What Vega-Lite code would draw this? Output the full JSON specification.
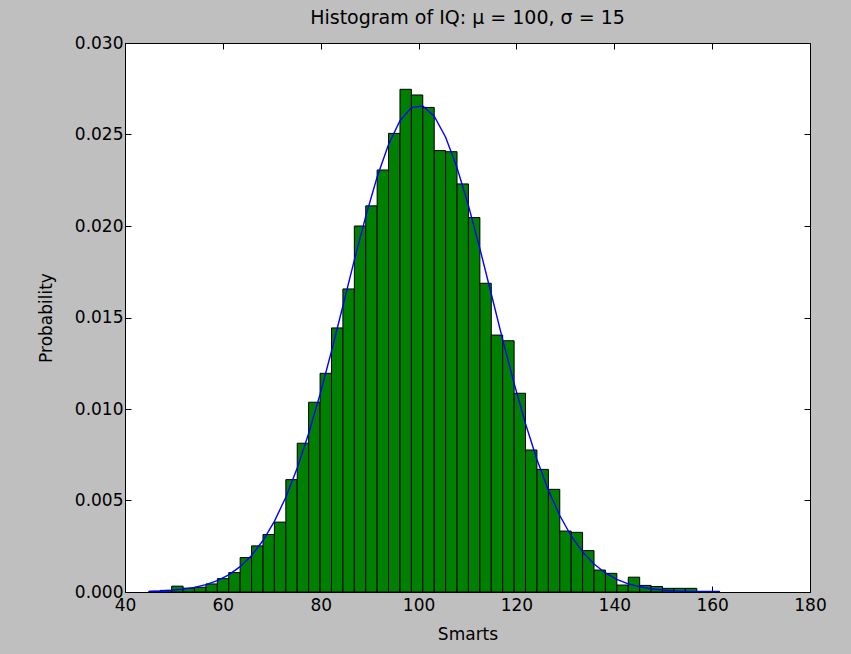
{
  "$schema": "https://vega.github.io/schema/vega-lite/v6.json",
  "width": 685,
  "height": 549,
  "autosize": {"type": "none"},
  "padding": {"left": 125, "top": 43, "right": 41, "bottom": 62},
  "background": "#bfbfbf",
  "title": {
    "text": "Histogram of IQ: μ = 100, σ = 15",
    "font": "DejaVu Sans",
    "fontSize": 19,
    "fontWeight": "normal",
    "color": "black",
    "offset": 6
  },
  "config": {
    "view": {"stroke": "black", "strokeWidth": 1, "fill": "white"},
    "axis": {
      "labelFont": "DejaVu Sans",
      "labelFontSize": 17,
      "labelColor": "black",
      "titleFont": "DejaVu Sans",
      "titleFontSize": 17,
      "titleFontWeight": "normal",
      "titleColor": "black",
      "domain": false,
      "grid": false,
      "tickColor": "black",
      "tickSize": -6,
      "tickWidth": 1
    }
  },
  "datasets": {
    "bins": [
      {"bin_start": 44.87, "bin_end": 47.20, "density": 0.00004},
      {"bin_start": 47.20, "bin_end": 49.54, "density": 0.00009},
      {"bin_start": 49.54, "bin_end": 51.87, "density": 0.00032},
      {"bin_start": 51.87, "bin_end": 54.20, "density": 0.00021},
      {"bin_start": 54.20, "bin_end": 56.54, "density": 0.00026},
      {"bin_start": 56.54, "bin_end": 58.87, "density": 0.00044},
      {"bin_start": 58.87, "bin_end": 61.20, "density": 0.00073},
      {"bin_start": 61.20, "bin_end": 63.53, "density": 0.00106},
      {"bin_start": 63.53, "bin_end": 65.87, "density": 0.00188},
      {"bin_start": 65.87, "bin_end": 68.20, "density": 0.00252},
      {"bin_start": 68.20, "bin_end": 70.53, "density": 0.00314},
      {"bin_start": 70.53, "bin_end": 72.87, "density": 0.00382},
      {"bin_start": 72.87, "bin_end": 75.20, "density": 0.00614},
      {"bin_start": 75.20, "bin_end": 77.53, "density": 0.00813},
      {"bin_start": 77.53, "bin_end": 79.87, "density": 0.01037},
      {"bin_start": 79.87, "bin_end": 82.20, "density": 0.01195},
      {"bin_start": 82.20, "bin_end": 84.53, "density": 0.01443},
      {"bin_start": 84.53, "bin_end": 86.87, "density": 0.01656},
      {"bin_start": 86.87, "bin_end": 89.20, "density": 0.02000},
      {"bin_start": 89.20, "bin_end": 91.53, "density": 0.02110},
      {"bin_start": 91.53, "bin_end": 93.86, "density": 0.02306},
      {"bin_start": 93.86, "bin_end": 96.20, "density": 0.02506},
      {"bin_start": 96.20, "bin_end": 98.53, "density": 0.02747},
      {"bin_start": 98.53, "bin_end": 100.86, "density": 0.02716},
      {"bin_start": 100.86, "bin_end": 103.20, "density": 0.02648},
      {"bin_start": 103.20, "bin_end": 105.53, "density": 0.02412},
      {"bin_start": 105.53, "bin_end": 107.86, "density": 0.02406},
      {"bin_start": 107.86, "bin_end": 110.19, "density": 0.02230},
      {"bin_start": 110.19, "bin_end": 112.53, "density": 0.02046},
      {"bin_start": 112.53, "bin_end": 114.86, "density": 0.01687},
      {"bin_start": 114.86, "bin_end": 117.19, "density": 0.01404},
      {"bin_start": 117.19, "bin_end": 119.53, "density": 0.01373},
      {"bin_start": 119.53, "bin_end": 121.86, "density": 0.01086},
      {"bin_start": 121.86, "bin_end": 124.19, "density": 0.00776},
      {"bin_start": 124.19, "bin_end": 126.53, "density": 0.00670},
      {"bin_start": 126.53, "bin_end": 128.86, "density": 0.00561},
      {"bin_start": 128.86, "bin_end": 131.19, "density": 0.00333},
      {"bin_start": 131.19, "bin_end": 133.52, "density": 0.00326},
      {"bin_start": 133.52, "bin_end": 135.86, "density": 0.00226},
      {"bin_start": 135.86, "bin_end": 138.19, "density": 0.00120},
      {"bin_start": 138.19, "bin_end": 140.52, "density": 0.00102},
      {"bin_start": 140.52, "bin_end": 142.86, "density": 0.00038},
      {"bin_start": 142.86, "bin_end": 145.19, "density": 0.00081},
      {"bin_start": 145.19, "bin_end": 147.52, "density": 0.00036},
      {"bin_start": 147.52, "bin_end": 149.86, "density": 0.00030},
      {"bin_start": 149.86, "bin_end": 152.19, "density": 0.00020},
      {"bin_start": 152.19, "bin_end": 154.52, "density": 0.00020},
      {"bin_start": 154.52, "bin_end": 156.86, "density": 0.00020},
      {"bin_start": 156.86, "bin_end": 159.19, "density": 0.00004},
      {"bin_start": 159.19, "bin_end": 161.52, "density": 0.00004}
    ],
    "curve": [
      {"x": 44.87, "pdf": 0.0000310},
      {"x": 47.20, "pdf": 0.0000543},
      {"x": 49.54, "pdf": 0.0000927},
      {"x": 51.87, "pdf": 0.0001545},
      {"x": 54.20, "pdf": 0.0002514},
      {"x": 56.54, "pdf": 0.0004000},
      {"x": 58.87, "pdf": 0.0006200},
      {"x": 61.20, "pdf": 0.0009375},
      {"x": 63.53, "pdf": 0.001384},
      {"x": 65.87, "pdf": 0.001998},
      {"x": 68.20, "pdf": 0.002812},
      {"x": 70.53, "pdf": 0.003859},
      {"x": 72.87, "pdf": 0.005181},
      {"x": 75.20, "pdf": 0.006780},
      {"x": 77.53, "pdf": 0.008660},
      {"x": 79.87, "pdf": 0.010809},
      {"x": 82.20, "pdf": 0.013154},
      {"x": 84.53, "pdf": 0.015628},
      {"x": 86.87, "pdf": 0.018133},
      {"x": 89.20, "pdf": 0.020524},
      {"x": 91.53, "pdf": 0.022678},
      {"x": 93.86, "pdf": 0.024458},
      {"x": 96.20, "pdf": 0.025756},
      {"x": 98.53, "pdf": 0.026468},
      {"x": 100.86, "pdf": 0.026552},
      {"x": 103.20, "pdf": 0.025998},
      {"x": 105.53, "pdf": 0.024849},
      {"x": 107.86, "pdf": 0.023183},
      {"x": 110.19, "pdf": 0.021117},
      {"x": 112.53, "pdf": 0.018763},
      {"x": 114.86, "pdf": 0.016282},
      {"x": 117.19, "pdf": 0.013792},
      {"x": 119.53, "pdf": 0.011394},
      {"x": 121.86, "pdf": 0.009197},
      {"x": 124.19, "pdf": 0.007245},
      {"x": 126.53, "pdf": 0.005566},
      {"x": 128.86, "pdf": 0.004178},
      {"x": 131.19, "pdf": 0.003061},
      {"x": 133.52, "pdf": 0.002190},
      {"x": 135.86, "pdf": 0.001527},
      {"x": 138.19, "pdf": 0.001040},
      {"x": 140.52, "pdf": 0.000692},
      {"x": 142.86, "pdf": 0.000449},
      {"x": 145.19, "pdf": 0.000284},
      {"x": 147.52, "pdf": 0.000176},
      {"x": 149.86, "pdf": 0.000106},
      {"x": 152.19, "pdf": 0.0000626},
      {"x": 154.52, "pdf": 0.0000360},
      {"x": 156.86, "pdf": 0.0000202},
      {"x": 159.19, "pdf": 0.0000110},
      {"x": 161.52, "pdf": 0.0000059}
    ]
  },
  "layer": [
    {
      "data": {"name": "bins"},
      "mark": {"type": "bar", "fill": "#008000", "stroke": "black", "strokeWidth": 1, "clip": true},
      "encoding": {
        "x": {
          "field": "bin_start", "type": "quantitative",
          "scale": {"domain": [40, 180], "nice": false, "zero": false},
          "axis": {"values": [40, 60, 80, 100, 120, 140, 160, 180], "title": "Smarts", "labelFlush": false, "labelPadding": 11, "titlePadding": 13}
        },
        "x2": {"field": "bin_end"},
        "y": {
          "field": "density", "type": "quantitative",
          "scale": {"domain": [0, 0.03], "nice": false},
          "axis": {"values": [0, 0.005, 0.01, 0.015, 0.02, 0.025, 0.03], "format": ".3f", "title": "Probability", "labelPadding": 8, "titlePadding": 19}
        },
        "y2": {"datum": 0}
      }
    },
    {
      "data": {"name": "curve"},
      "mark": {"type": "line", "color": "#0000ff", "strokeWidth": 1.4, "clip": true},
      "encoding": {
        "x": {
          "field": "x", "type": "quantitative",
          "axis": {"orient": "top", "values": [40, 60, 80, 100, 120, 140, 160, 180], "labels": false, "title": null}
        },
        "y": {
          "field": "pdf", "type": "quantitative",
          "axis": {"orient": "right", "values": [0, 0.005, 0.01, 0.015, 0.02, 0.025, 0.03], "labels": false, "title": null}
        }
      }
    }
  ],
  "resolve": {"axis": {"x": "independent", "y": "independent"}}
}
